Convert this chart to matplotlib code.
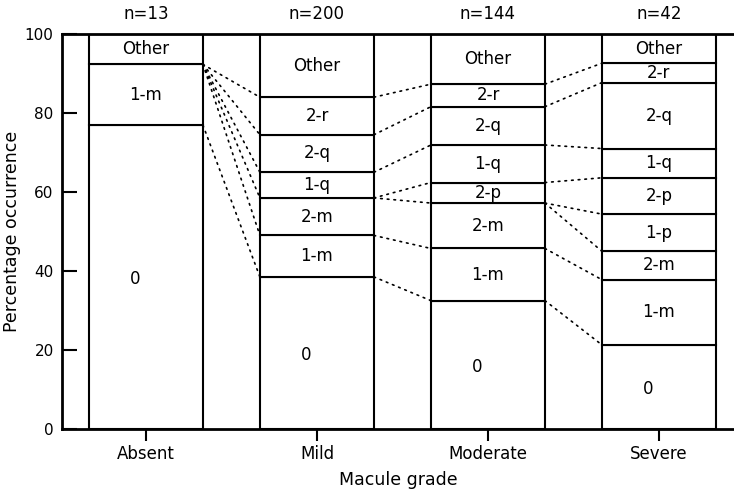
import matplotlib
matplotlib.use("Agg")
import matplotlib.pyplot as plt
import numpy as np

# ---- data ----
categories = ["Absent", "Mild", "Moderate", "Severe"]
n_values = [13, 200, 144, 42]
grades = ["0", "1-m", "2-m", "1-p", "2-p", "1-q", "2-q", "2-r", "Other"]
absent = [76.9, 15.4, 0.0, 0.0, 0.0, 0.0, 0.0, 0.0, 7.7]
mild = [38.5, 10.5, 9.5, 0.0, 0.0, 6.5, 9.5, 9.5, 16.0]
moderate = [32.5, 13.2, 11.5, 0.0, 5.2, 9.5, 9.7, 5.7, 12.7]
severe = [21.3, 16.5, 7.2, 9.4, 9.2, 7.4, 16.7, 4.9, 7.4]
yticks = [0, 20, 40, 60, 80, 100]

series = [absent, mild, moderate, severe]

plt.rcParams['font.family'] = ['DejaVu Sans']
fig = plt.figure(figsize=(7.34, 4.90), dpi=100)
ax = fig.add_axes([62 / 734, 61 / 490, 1 - 62 / 734, (429 - 34) / 490])

x = np.arange(len(categories))
width = 0.667
bar_lw = 1.5

for i, vals in enumerate(series):
    vals = np.array(vals)
    bottoms = np.concatenate([[0], np.cumsum(vals)[:-1]])
    for g, (v, b) in enumerate(zip(vals, bottoms)):
        if v <= 0:
            continue
        ax.bar(x[i], v, bottom=b, width=width, facecolor="white",
               edgecolor="black", linewidth=bar_lw, zorder=2)
        dx = -0.065 if g == 0 else 0.0
        dy = -0.5 if g == 0 else 0.0
        ax.text(x[i] + dx, b + v / 2 + dy, grades[g], ha="center", va="center",
                fontsize=12, zorder=3)
    ax.text(x[i], 105.1, f"n={n_values[i]}", ha="center", va="center",
            fontsize=12, clip_on=False)

# dotted connecting lines between adjacent bars
for i in range(len(series) - 1):
    cl = np.cumsum(series[i])[:-1]
    cr = np.cumsum(series[i + 1])[:-1]
    seen = set()
    for a, b in zip(cl, cr):
        key = (round(a, 3), round(b, 3))
        if key in seen:
            continue
        seen.add(key)
        ax.plot([x[i] + width / 2, x[i + 1] - width / 2], [a, b],
                color="black", linewidth=1.2, linestyle=(0, (1, 3)),
                dash_capstyle="round", zorder=1)

ax.set_xlim(-0.491, 3.439)
ax.set_ylim(0, 100)
ax.set_xticks(x)
ax.set_xticklabels(categories, fontsize=12)
ax.set_yticks(yticks)
ax.set_yticklabels([str(t) for t in yticks], fontsize=11)
ax.tick_params(axis="y", direction="in", length=10.5, width=1.5, pad=6)
ax.tick_params(axis="x", direction="out", length=8.5, width=1.5, pad=3)
ax.spines["right"].set_visible(False)
for s in ["left", "top", "bottom"]:
    ax.spines[s].set_linewidth(2.0)

ax.set_xlabel("Macule grade", fontsize=12.5, labelpad=6)
fig.text(12 / 734, 1 - 231 / 490, "Percentage occurrence", rotation=90,
         ha="center", va="center", fontsize=12.5)

fig.savefig("out.png", dpi=100)
